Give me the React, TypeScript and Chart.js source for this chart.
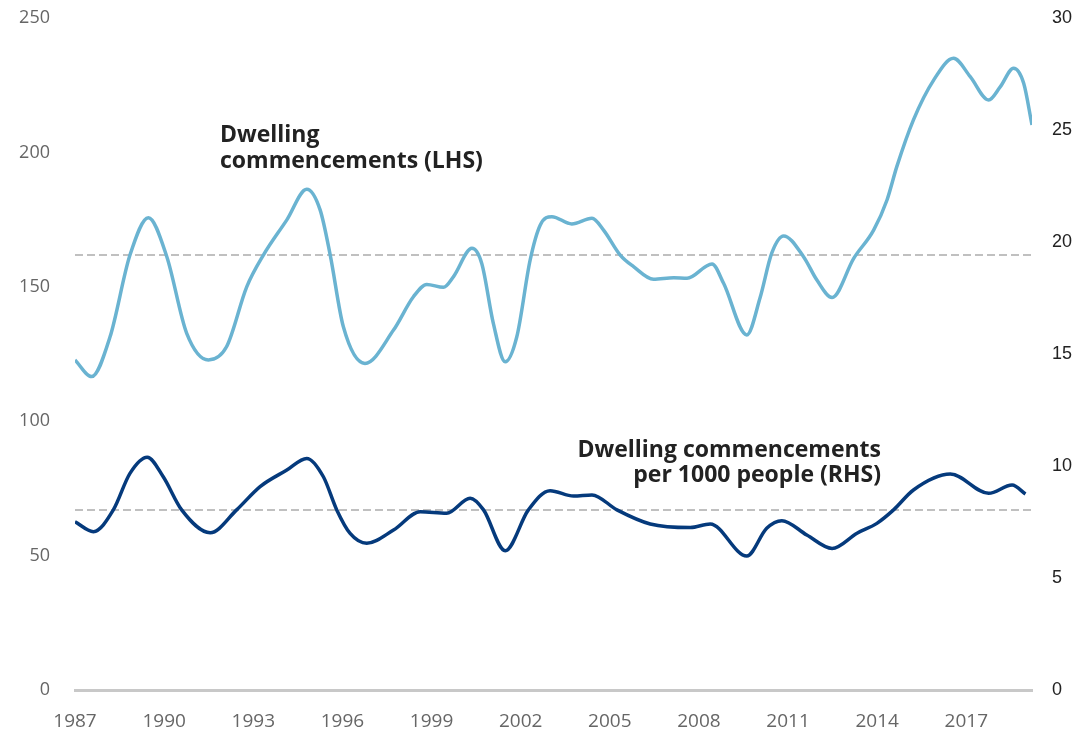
import React, { useEffect, useRef } from "react";
import { Chart, registerables } from "chart.js";

Chart.register(...registerables);

// X-axis tick years
const tickYears = [1987, 1990, 1993, 1996, 1999, 2002, 2005, 2008, 2011, 2014, 2017];
const xMin = 1987;
const xMax = 2019.21;

// Dwelling commencements ('000s, LHS)
const lhsYears = [
  1987.0, 1987.56, 1988.18, 1988.85, 1989.47, 1990.09, 1990.76, 1991.49, 1992.1, 1992.78,
  1993.34, 1994.13, 1994.8, 1995.25, 1995.59, 1996.03, 1996.76, 1997.72, 1998.39, 1998.84,
  1999.4, 1999.74, 2000.36, 2000.69, 2001.08, 2001.48, 2001.87, 2002.32, 2002.66, 2003.05,
  2003.72, 2004.4, 2004.79, 2005.35, 2005.8, 2006.47, 2007.15, 2007.6, 2008.44, 2008.83,
  2009.61, 2010.06, 2010.45, 2010.85, 2011.52, 2011.97, 2012.48, 2013.21, 2013.88, 2014.33,
  2014.66, 2015.22, 2015.9, 2016.57, 2017.13, 2017.75, 2018.14, 2018.59, 2018.93, 2019.21,
];
const lhsValues = [
  122.8, 116.6, 131.4, 161.8, 175.7, 161.2, 132.7, 122.8, 127.7, 150.0,
  161.8, 174.9, 186.3, 178.6, 161.8, 135.2, 121.5, 133.9, 146.3, 150.9,
  149.8, 153.8, 164.3, 158.7, 136.4, 122.1, 131.4, 160.0, 173.0, 176.1,
  173.4, 175.5, 171.1, 161.8, 157.5, 152.8, 153.4, 153.2, 158.5, 151.3,
  132.1, 146.0, 162.5, 168.9, 161.2, 152.5, 146.0, 160.6, 171.1, 182.3,
  194.7, 212.1, 226.9, 235.0, 228.2, 219.5, 224.4, 231.3, 225.7, 210.2,
];

// Dwelling commencements per 1000 people (RHS)
const rhsYears = [
  1987.0, 1987.62, 1988.29, 1988.85, 1989.43, 1989.97, 1990.59, 1991.55, 1992.44, 1993.23,
  1994.13, 1994.8, 1995.36, 1995.81, 1996.26, 1996.82, 1997.72, 1998.62, 1999.51, 2000.3,
  2000.75, 2001.48, 2002.26, 2002.99, 2003.78, 2004.4, 2005.24, 2006.36, 2007.71, 2008.38,
  2009.61, 2010.28, 2010.79, 2011.63, 2012.48, 2013.32, 2013.99, 2014.55, 2015.22, 2016.46,
  2017.75, 2018.54, 2018.99,
];
const rhsValues = [
  7.51, 7.07, 8.04, 9.67, 10.39, 9.52, 8.04, 7.02, 8.04, 9.08,
  9.82, 10.34, 9.52, 8.04, 6.99, 6.55, 7.14, 7.96, 7.89, 8.56,
  8.04, 6.22, 8.04, 8.9, 8.66, 8.71, 8.04, 7.41, 7.25, 7.41,
  5.98, 7.22, 7.56, 6.92, 6.32, 7.0, 7.44, 8.04, 8.93, 9.64,
  8.78, 9.15, 8.75,
];

// Long-run averages (dashed lines)
const lhsAverage = 161.8;
const rhsAverage = 8.04;

const lhsLabel = ["Dwelling", "commencements (LHS)"];
const rhsLabel = ["Dwelling commencements", "per 1000 people (RHS)"];

const LIGHT = "#6ab3d1";
const DARK = "#053a7c";
const DASH = "#c0c0c0";

const annotationPlugin = {
  id: "seriesLabels",
  afterDatasetsDraw(chart: any) {
    const ctx = chart.ctx;
    ctx.save();
    ctx.font = 'bold 23px "Open Sans"';
    ctx.fillStyle = "#222222";
    ctx.textBaseline = "alphabetic";
    ctx.textAlign = "left";
    ctx.fillText(lhsLabel[0], 220, 142);
    ctx.fillText(lhsLabel[1], 220, 168);
    ctx.textAlign = "right";
    ctx.fillText(rhsLabel[0], 881, 457);
    ctx.fillText(rhsLabel[1], 881, 482);
    ctx.restore();
  },
};

export default function App() {
  const ref = useRef<HTMLCanvasElement>(null);

  useEffect(() => {
    if (!ref.current) return;
    const chart = new Chart(ref.current, {
      type: "line",
      data: {
        datasets: [
          {
            label: "Dwelling commencements (LHS)",
            data: lhsYears.map((x, i) => ({ x, y: lhsValues[i] })),
            borderColor: LIGHT,
            borderWidth: 3.5,
            pointRadius: 0,
            cubicInterpolationMode: "monotone",
            yAxisID: "y",
            order: 0,
          },
          {
            label: "Dwelling commencements per 1000 people (RHS)",
            data: rhsYears.map((x, i) => ({ x, y: rhsValues[i] })),
            borderColor: DARK,
            borderWidth: 3.5,
            pointRadius: 0,
            cubicInterpolationMode: "monotone",
            yAxisID: "y2",
            order: 0,
          },
          {
            label: "LHS average",
            data: [
              { x: xMin, y: lhsAverage },
              { x: xMax, y: lhsAverage },
            ],
            borderColor: DASH,
            borderWidth: 2,
            borderDash: [8, 4],
            pointRadius: 0,
            yAxisID: "y",
            order: 1,
          },
          {
            label: "RHS average",
            data: [
              { x: xMin, y: rhsAverage },
              { x: xMax, y: rhsAverage },
            ],
            borderColor: DASH,
            borderWidth: 2,
            borderDash: [8, 4],
            pointRadius: 0,
            yAxisID: "y2",
            order: 1,
          },
        ],
      },
      options: {
        responsive: false,
        animation: false,
        layout: { padding: { top: 18, left: 0, right: 0, bottom: 0 } },
        plugins: {
          legend: { display: false },
          tooltip: { enabled: false },
        },
        scales: {
          x: {
            type: "linear",
            position: "bottom",
            min: xMin,
            max: xMax,
            grid: { display: false },
            border: { display: true, color: "#c8c8c8", width: 3 },
            ticks: {
              color: "#666666",
              font: { family: '"Open Sans"', size: 19 },
              padding: 12,
              maxRotation: 0,
              autoSkip: false,
              callback: (v: any) => String(v),
            },
            afterBuildTicks: (s: any) => {
              s.ticks = tickYears.map((value) => ({ value }));
            },
            afterFit: (s: any) => {
              s.height = 47;
              s.paddingLeft = 0;
              s.paddingRight = 0;
            },
          },
          y: {
            type: "linear",
            position: "left",
            min: 0,
            max: 250,
            grid: { display: false },
            border: { display: false },
            ticks: {
              stepSize: 50,
              color: "#666666",
              font: { family: '"Open Sans"', size: 18 },
              padding: 17,
            },
            afterFit: (s: any) => {
              s.width = 75;
              s.paddingTop = 0;
              s.paddingBottom = 0;
            },
          },
          y2: {
            type: "linear",
            position: "right",
            min: 0,
            max: 30,
            grid: { display: false },
            border: { display: false },
            ticks: {
              stepSize: 5,
              color: "#222222",
              font: { family: '"Liberation Sans"', size: 18 },
              padding: 12,
            },
            afterFit: (s: any) => {
              s.width = 42;
              s.paddingTop = 0;
              s.paddingBottom = 0;
            },
          },
        },
      },
      plugins: [annotationPlugin],
    });
    return () => chart.destroy();
  }, []);

  return (
    <div style={{ position: "absolute", left: 0, top: 0, width: 1074, height: 737, background: "#fff" }}>
      <canvas ref={ref} width={1074} height={737} style={{ display: "block" }} />
    </div>
  );
}
